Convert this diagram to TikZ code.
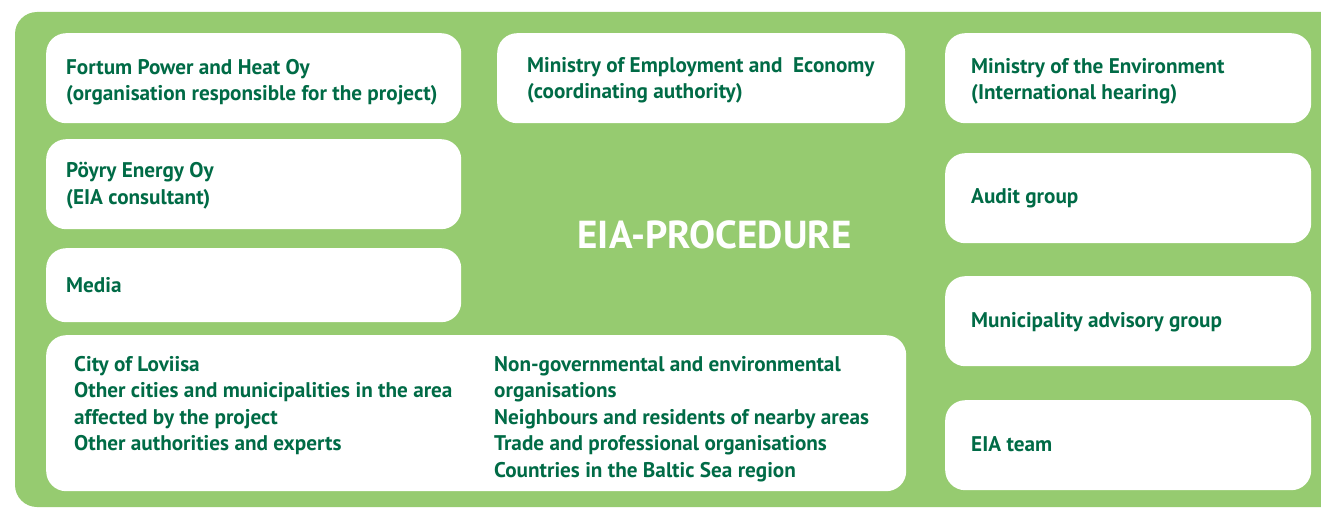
\documentclass[tikz,border=0pt]{standalone}
\usepackage{fontspec}
\setmainfont{PT Sans}
\definecolor{leaf}{RGB}{150,203,112}
\definecolor{pine}{RGB}{0,107,70}
\begin{document}
\begin{tikzpicture}[x=1pt,y=-1pt,
  panel/.style={fill=white,draw=none,rounded corners=20pt,anchor=north west,inner sep=0pt},
  label/.style={anchor=base west,inner sep=0pt,text=pine,font=\fontsize{21.2}{26.5}\selectfont\bfseries,align=left},
  title/.style={anchor=center,inner sep=0pt,text=white,font=\fontsize{39}{42}\selectfont\bfseries}]
\useasboundingbox (0,0) rectangle (1321,508);
\clip (0,0) rectangle (1321,508);
% green backdrop
\fill[leaf,rounded corners=22pt] (15,507) -- (15,12) -- (1350,12) -- (1350,507) -- cycle;
% left column
\node[panel,minimum width=415pt,minimum height=90pt] (fortum) at (46,33) {};
\node[panel,minimum width=415pt,minimum height=90pt] (poyry) at (46,139) {};
\node[panel,minimum width=415pt,minimum height=74pt] (media) at (46,248) {};
\node[panel,minimum width=860pt,minimum height=156pt] (others) at (46,335) {};
% middle
\node[panel,minimum width=408pt,minimum height=90pt] (tem) at (497,33) {};
% right column
\node[panel,minimum width=366pt,minimum height=90pt] (ym) at (945,33) {};
\node[panel,minimum width=366pt,minimum height=90pt] (audit) at (945,153) {};
\node[panel,minimum width=366pt,minimum height=90pt] (advisory) at (945,276) {};
\node[panel,minimum width=366pt,minimum height=90pt] (team) at (945,400) {};
% texts (anchored at the baseline of their last line)
\node[label] (tfortum) at (66,101) {Fortum Power and Heat Oy\\(organisation responsible for the project)};
\node[label] (tpoyry) at (66,204) {Pöyry Energy Oy\\(EIA consultant)};
\node[label] (tmedia) at (66,292) {Media};
\node[label] (ttem) at (527,99) {Ministry of Employment and\ \ Economy\\(coordinating authority)};
\node[label] (tym) at (971,100) {Ministry of the Environment\\(International hearing)};
\node[label] (taudit) at (971,203) {Audit group};
\node[label] (tadvisory) at (971,327) {Municipality advisory group};
\node[label] (tteam) at (971,451) {EIA team};
\node[label] (tcities) at (74,450.5) {City of Loviisa\\Other cities and municipalities in the area\\affected by the project\\Other authorities and experts};
\node[label] (tngo) at (494,477) {Non-governmental and environmental\\organisations\\Neighbours and residents of nearby areas\\Trade and professional organisations\\Countries in the Baltic Sea region};
\node[title] (proc) at (714.5,235) {EIA-PROCEDURE};
\end{tikzpicture}
\end{document}
